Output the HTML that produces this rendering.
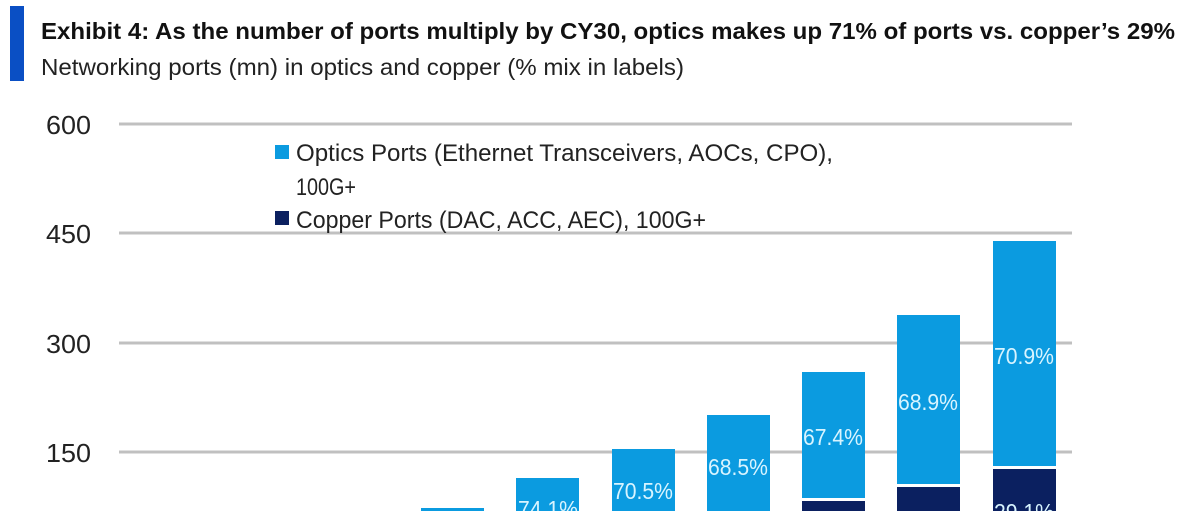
<!DOCTYPE html>
<html><head><meta charset="utf-8"><style>
html,body{margin:0;padding:0;background:#fff;width:1204px;height:511px;overflow:hidden}
</style></head><body>
<svg width="1204" height="511" xmlns="http://www.w3.org/2000/svg" font-family="Liberation Sans, sans-serif">
<rect x="10" y="6" width="14" height="75" fill="#0a4fc4"/>
<text x="41" y="39" font-size="23" font-weight="bold" fill="#111" textLength="1134" lengthAdjust="spacingAndGlyphs">Exhibit 4: As the number of ports multiply by CY30, optics makes up 71% of ports vs. copper’s 29%</text>
<text x="41" y="75" font-size="23" fill="#222" textLength="643" lengthAdjust="spacingAndGlyphs">Networking ports (mn) in optics and copper (% mix in labels)</text>
<g stroke="#c0c0c0" stroke-width="3">
<line x1="119" y1="124" x2="1072" y2="124"/>
<line x1="119" y1="233" x2="1072" y2="233"/>
<line x1="119" y1="343" x2="1072" y2="343"/>
<line x1="119" y1="452" x2="1072" y2="452"/>
</g>
<g font-size="26" fill="#222">
<text x="46" y="134" textLength="45" lengthAdjust="spacingAndGlyphs">600</text>
<text x="46" y="243" textLength="45" lengthAdjust="spacingAndGlyphs">450</text>
<text x="46" y="353" textLength="45" lengthAdjust="spacingAndGlyphs">300</text>
<text x="46" y="462" textLength="45" lengthAdjust="spacingAndGlyphs">150</text>
</g>
<rect x="275" y="145" width="14" height="14" fill="#0b9be0"/>
<text x="296" y="161" font-size="24" fill="#222" textLength="537" lengthAdjust="spacingAndGlyphs">Optics Ports (Ethernet Transceivers, AOCs, CPO),</text>
<text x="296" y="195" font-size="24" fill="#222" textLength="60" lengthAdjust="spacingAndGlyphs">100G+</text>
<rect x="275" y="211" width="14" height="14" fill="#0b2060"/>
<text x="296" y="228" font-size="24" fill="#222" textLength="410" lengthAdjust="spacingAndGlyphs">Copper Ports (DAC, ACC, AEC), 100G+</text>
<g fill="#0b9be0">
<rect x="421" y="508" width="63" height="10"/>
<rect x="516" y="478" width="63" height="40"/>
<rect x="612" y="449" width="63" height="70"/>
<rect x="707" y="415" width="63" height="100"/>
<rect x="802" y="372" width="63" height="126"/>
<rect x="897" y="315" width="63" height="169"/>
<rect x="993" y="241" width="63" height="225"/>
</g>
<g fill="#0b2060">
<rect x="802" y="501" width="63" height="20"/>
<rect x="897" y="487" width="63" height="30"/>
<rect x="993" y="469" width="63" height="50"/>
</g>
<g font-size="23" fill="#d8f4ff" text-anchor="middle">
<text x="548" y="517" textLength="60" lengthAdjust="spacingAndGlyphs">74.1%</text>
<text x="643" y="499" textLength="60" lengthAdjust="spacingAndGlyphs">70.5%</text>
<text x="738" y="475" textLength="60" lengthAdjust="spacingAndGlyphs">68.5%</text>
<text x="833" y="445" textLength="60" lengthAdjust="spacingAndGlyphs">67.4%</text>
<text x="928" y="410" textLength="60" lengthAdjust="spacingAndGlyphs">68.9%</text>
<text x="1024" y="364" textLength="60" lengthAdjust="spacingAndGlyphs">70.9%</text>
<text x="1024" y="520" textLength="60" lengthAdjust="spacingAndGlyphs">29.1%</text>
</g>
</svg>
</body></html>
